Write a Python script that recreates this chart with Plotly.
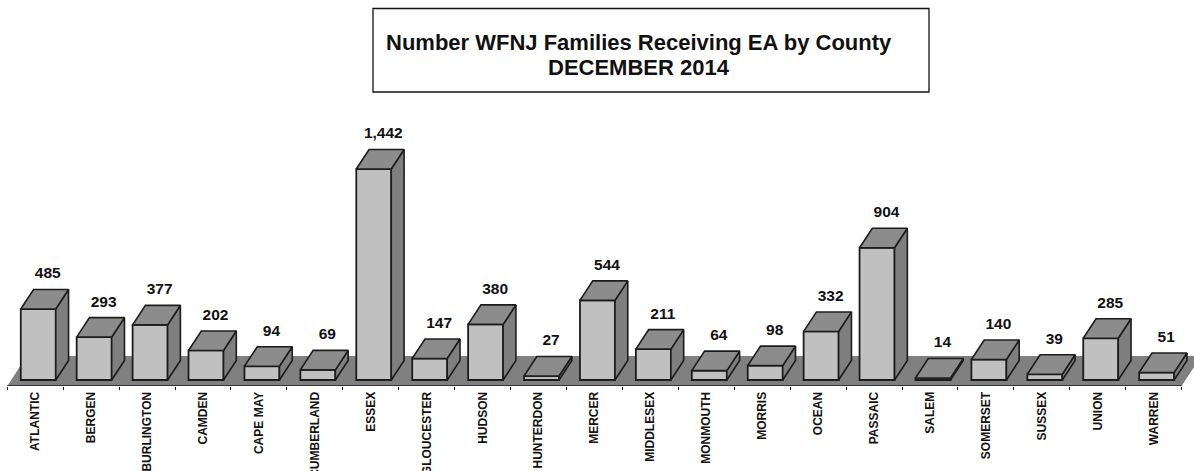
import plotly.graph_objects as go

counties = ["ATLANTIC", "BERGEN", "BURLINGTON", "CAMDEN", "CAPE MAY", "CUMBERLAND", "ESSEX",
            "GLOUCESTER", "HUDSON", "HUNTERDON", "MERCER", "MIDDLESEX", "MONMOUTH", "MORRIS",
            "OCEAN", "PASSAIC", "SALEM", "SOMERSET", "SUSSEX", "UNION", "WARREN"]
families = [485, 293, 377, 202, 94, 69, 1442, 147, 380, 27, 544, 211, 64, 98, 332, 904, 14, 140, 39, 285, 51]
title_lines = ["Number WFNJ Families Receiving EA by County", "DECEMBER 2014"]

W, H = 1194, 471
FONT = "Liberation Sans, Arial, sans-serif"
PX_X = 55.92          # px per category
X0_PX = 7.3           # px of first boundary
PX_Y = 0.1463         # px per family
BASE_PX = 380         # px of zero
AXIS_PX = 386         # px of axis (bottom of plot)

ux = lambda px: px / PX_X
uy = lambda px: px / PX_Y
xpx = lambda p: (p - X0_PX) / PX_X - 0.5     # page px -> x data
ypx = lambda p: (BASE_PX - p) / PX_Y         # page px -> y data

DX, DY = ux(12.8), uy(19.5)
SHIFT = ux(3)
BW = ux(35)
LINE = "#1c1c1c"

top_x, top_y, side_x, side_y = [], [], [], []
for i, v in enumerate(families):
    l, r = i + SHIFT - BW / 2, i + SHIFT + BW / 2
    top_x += [l, r, r + DX, l + DX, l, None]
    top_y += [v, v, v + DY, v + DY, v, None]
    side_x += [r, r + DX, r + DX, r, r, None]
    side_y += [0, DY, v + DY, v, 0, None]

fig = go.Figure()
fig.add_trace(go.Bar(x=list(range(len(counties))), y=families, width=BW, offset=SHIFT - BW / 2,
                     marker=dict(color="#c0c0c0", line=dict(color=LINE, width=1.8))))
fig.add_trace(go.Scatter(x=side_x, y=side_y, mode="lines", fill="toself", fillcolor="#7f7f7f",
                         line=dict(color=LINE, width=1.6)))
fig.add_trace(go.Scatter(x=top_x, y=top_y, mode="lines", fill="toself", fillcolor="#8c8c8c",
                         line=dict(color=LINE, width=1.6)))
fig.add_trace(go.Scatter(x=[i + SHIFT + ux(9.5) for i in range(len(families))],
                         y=[v + DY + uy(15) for v in families],
                         mode="text", text=[f"{v:,}" for v in families], textposition="middle center",
                         textfont=dict(family=FONT, size=15.5, color="#111", weight="bold"),
                         cliponaxis=False))

n = len(counties)
floor_front = ypx(AXIS_PX)
floor_back = ypx(356)
slope = ux(19.5)
floor_path = (f"M {-0.5} {floor_front} L {n - 0.5} {floor_front} "
              f"L {n - 0.5 + slope} {floor_back} L {-0.5 + slope} {floor_back} Z")
fig.add_shape(type="path", path=floor_path, xref="x", yref="y", layer="below",
              fillcolor="#808080", line=dict(width=0))
fig.add_shape(type="line", xref="x", yref="y", x0=-0.5, x1=n - 0.5, y0=floor_front, y1=floor_front,
              line=dict(color=LINE, width=1.6))
fig.add_shape(type="rect", xref="x", yref="y", x0=xpx(373), x1=xpx(929), y0=ypx(8.5), y1=ypx(92),
              line=dict(color="#111", width=1.3), fillcolor="white")
for line_text, centre_y in zip(title_lines, [42, 67]):
    fig.add_annotation(xref="x", yref="y", x=xpx(638.5), y=ypx(centre_y), text=f"<b>{line_text}</b>",
                       showarrow=False, align="center", font=dict(family=FONT, size=22, color="#111"))

fig.update_layout(
    width=W, height=H, showlegend=False, plot_bgcolor="white", paper_bgcolor="white",
    margin=dict(l=0, r=0, t=0, b=H - AXIS_PX, autoexpand=False), hovermode=False,
    xaxis=dict(range=[xpx(0), xpx(W)], tickmode="array", tickvals=list(range(n)), ticktext=counties,
               tickangle=-90, ticks="outside", ticklen=0, showgrid=False, zeroline=False, showline=False,
               automargin=False,
               tickfont=dict(family=FONT, size=12, color="#111", weight="bold"),
               minor=dict(tickmode="linear", tick0=-0.5, dtick=1, ticks="outside", ticklen=3,
                          tickcolor=LINE, tickwidth=1.2, showgrid=False)),
    yaxis=dict(range=[ypx(AXIS_PX), ypx(0)], visible=False, showgrid=False, zeroline=False),
)
fig.write_html("out.html", post_script="document.body.style.margin='0';", config={"displayModeBar": False})
